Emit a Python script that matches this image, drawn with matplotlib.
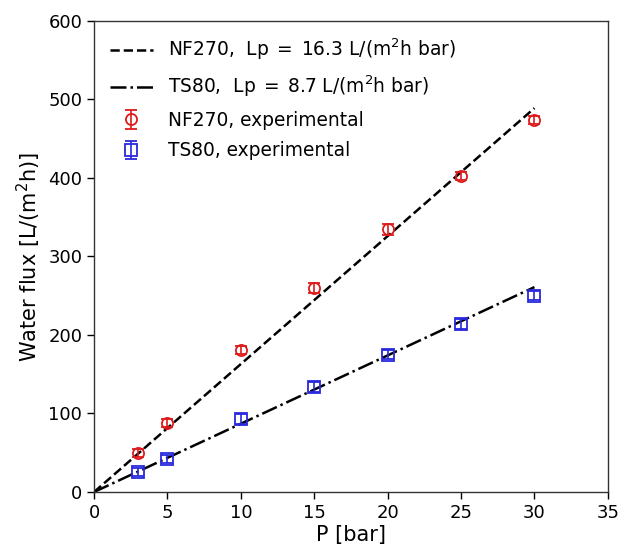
import matplotlib
matplotlib.use("Agg")
import matplotlib.pyplot as plt
import numpy as np

# Data
P_exp = [3, 5, 10, 15, 20, 25, 30]
nf270_flux = [50, 88, 181, 260, 335, 403, 474]
nf270_err = [5, 5, 5, 6, 7, 5, 5]
ts80_flux = [25, 42, 93, 134, 175, 214, 250]
ts80_err = [5, 5, 6, 6, 6, 6, 6]
P_fit = [0, 30]
Lp_nf270 = 16.3
Lp_ts80 = 8.7

fig = plt.figure(figsize=(6.19, 5.48), dpi=100)
ax = fig.add_axes([0.152, 0.1022, 0.830, 0.8595])

P_fit_arr = np.array(P_fit, dtype=float)
l1, = ax.plot(P_fit_arr, Lp_nf270 * P_fit_arr, 'k--', lw=1.8,
              label=r'NF270,  Lp$\;=\;$16.3 L/(m$^2$h bar)')
l2, = ax.plot(P_fit_arr, Lp_ts80 * P_fit_arr, 'k-.', lw=1.8,
              label=r'TS80,  Lp$\;=\;$8.7 L/(m$^2$h bar)')
e1 = ax.errorbar(P_exp, nf270_flux, yerr=nf270_err, fmt='o', mfc='none',
                 mec='#dd1a1a', ecolor='#dd1a1a', ms=8, mew=1.3, capsize=4,
                 elinewidth=1.2, label='NF270, experimental')
e2 = ax.errorbar(P_exp, ts80_flux, yerr=ts80_err, fmt='s', mfc='none',
                 mec='#2828dd', ecolor='#2828dd', ms=8.5, mew=1.3, capsize=4,
                 elinewidth=1.2, label='TS80, experimental')

ax.set_xlim(0, 35)
ax.set_ylim(0, 600)
ax.set_xticks(np.arange(0, 36, 5))
ax.set_yticks(np.arange(0, 601, 100))
ax.tick_params(labelsize=13, length=5, width=1)
ax.set_xlabel('P [bar]', fontsize=15, labelpad=2)
ax.set_ylabel(r'Water flux [L/(m$^2$h)]', fontsize=15, labelpad=4)
for s in ax.spines.values():
    s.set_linewidth(1.0)
    s.set_color('#333333')

ax.legend(handles=[l1, l2, e1, e2], loc='upper left', frameon=False,
          fontsize=13.4, handlelength=2.3, borderaxespad=0.45, labelspacing=0.62,
          handletextpad=0.8)

fig.savefig('out.png', dpi=100)
